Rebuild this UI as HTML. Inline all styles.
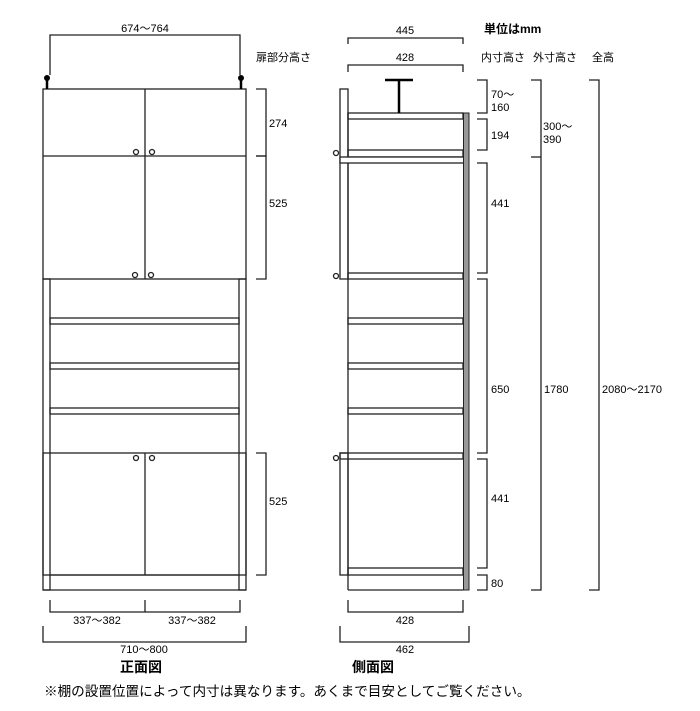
<!DOCTYPE html>
<html><head><meta charset="utf-8"><style>
html,body{margin:0;padding:0;background:#fff;}
svg{display:block;}
text{font-family:"Liberation Sans","Noto Sans CJK JP",sans-serif;font-size:11px;fill:#000;}
</style></head><body>
<svg width="700" height="711" viewBox="0 0 700 711" xmlns="http://www.w3.org/2000/svg">
<g fill="none" stroke="#222" stroke-width="1.3">
<polyline points="50,75 50,35 240,35 240,75"/>
<rect x="43" y="89" width="203" height="190"/>
<line x1="43" y1="156" x2="246" y2="156"/>
<line x1="145" y1="89" x2="145" y2="279"/>
<rect x="43" y="279" width="7" height="311"/>
<rect x="239" y="279" width="7" height="311"/>
<rect x="50" y="318" width="189" height="6"/>
<rect x="50" y="363" width="189" height="6"/>
<rect x="50" y="408" width="189" height="6"/>
<rect x="43" y="453" width="203" height="122"/>
<line x1="145" y1="453" x2="145" y2="575"/>
<line x1="43" y1="590" x2="246" y2="590"/>
<line x1="50" y1="575" x2="239" y2="575"/>
<circle cx="136" cy="152" r="2.5"/><circle cx="152" cy="152" r="2.5"/>
<circle cx="135" cy="275" r="2.5"/><circle cx="151" cy="275" r="2.5"/>
<circle cx="136" cy="458" r="2.5"/><circle cx="152" cy="458" r="2.5"/>
<polyline points="256,89 266,89 266,156 256,156"/>
<polyline points="256,156 266,156 266,279 256,279"/>
<polyline points="256,453 266,453 266,575 256,575"/>
<polyline points="50,600 50,612 240,612 240,600"/>
<line x1="145" y1="600" x2="145" y2="612"/>
<polyline points="43,626 43,642 246,642 246,626"/>
<polyline points="348,44 348,38 463,38 463,44"/>
<polyline points="348,72 348,65 463,65 463,72"/>
<rect x="340" y="89" width="8" height="190"/>
<rect x="340" y="453" width="8" height="122"/>
<line x1="348" y1="113" x2="348" y2="590"/>
<rect x="348" y="113" width="115" height="6"/>
<rect x="348" y="150" width="115" height="7"/>
<rect x="340" y="157" width="128" height="6" fill="#fff"/>
<rect x="348" y="273" width="115" height="6"/>
<rect x="348" y="318" width="115" height="6"/>
<rect x="348" y="363" width="115" height="6"/>
<rect x="348" y="408" width="115" height="6"/>
<rect x="340" y="453" width="123" height="6"/>
<rect x="348" y="568" width="115" height="7"/>
<line x1="348" y1="590" x2="463" y2="590"/>
<circle cx="336" cy="153" r="2.5"/><circle cx="336" cy="276" r="2.5"/><circle cx="336" cy="458" r="2.5"/>
<polyline points="477,80 487,80 487,113 477,113"/>
<polyline points="477,119 487,119 487,150 477,150"/>
<polyline points="477,163 487,163 487,273 477,273"/>
<polyline points="477,279 487,279 487,453 477,453"/>
<polyline points="477,459 487,459 487,568 477,568"/>
<polyline points="477,575 487,575 487,590 477,590"/>
<polyline points="531,80 541,80 541,590 531,590"/>
<line x1="531" y1="157" x2="541" y2="157"/>
<polyline points="589,80 599,80 599,590 589,590"/>
<polyline points="348,600 348,612 463,612 463,600"/>
<polyline points="340,626 340,642 469,642 469,626"/>
</g>
<rect x="463.5" y="113" width="5.5" height="477" fill="#999" stroke="#222" stroke-width="1"/>
<line x1="399" y1="80" x2="399" y2="113" stroke="#000" stroke-width="2.5"/>
<line x1="385" y1="80" x2="413" y2="80" stroke="#000" stroke-width="2.5"/>
<line x1="47" y1="78" x2="47" y2="89" stroke="#000" stroke-width="2.5"/>
<circle cx="47" cy="78" r="3" fill="#000"/>
<line x1="241" y1="78" x2="241" y2="89" stroke="#000" stroke-width="2.5"/>
<circle cx="241" cy="78" r="3" fill="#000"/>
<text x="145" y="32" text-anchor="middle">674～764</text>
<text x="256" y="61">扉部分高さ</text>
<text x="269" y="127">274</text>
<text x="269" y="207">525</text>
<text x="269" y="505">525</text>
<text x="97" y="624" text-anchor="middle">337～382</text>
<text x="192" y="624" text-anchor="middle">337～382</text>
<text x="144" y="653" text-anchor="middle">710～800</text>
<text x="120" y="672" style="font-size:14px;font-weight:bold">正面図</text>
<text x="405" y="34" text-anchor="middle">445</text>
<text x="405" y="61" text-anchor="middle">428</text>
<text x="484" y="33" style="font-weight:bold;font-size:12px">単位はmm</text>
<text x="481" y="61">内寸高さ</text>
<text x="533" y="61">外寸高さ</text>
<text x="592" y="61">全高</text>
<text x="491" y="98">70～</text>
<text x="491" y="111">160</text>
<text x="491" y="139">194</text>
<text x="491" y="207">441</text>
<text x="491" y="393">650</text>
<text x="491" y="502">441</text>
<text x="491" y="587">80</text>
<text x="543" y="130">300～</text>
<text x="543" y="143">390</text>
<text x="544" y="393">1780</text>
<text x="602" y="393">2080～2170</text>
<text x="405" y="624" text-anchor="middle">428</text>
<text x="405" y="653" text-anchor="middle">462</text>
<text x="352" y="672" style="font-size:14px;font-weight:bold">側面図</text>
<text x="44" y="696" style="font-size:13.6px">※棚の設置位置によって内寸は異なります。あくまで目安としてご覧ください。</text>
</svg>
</body></html>
